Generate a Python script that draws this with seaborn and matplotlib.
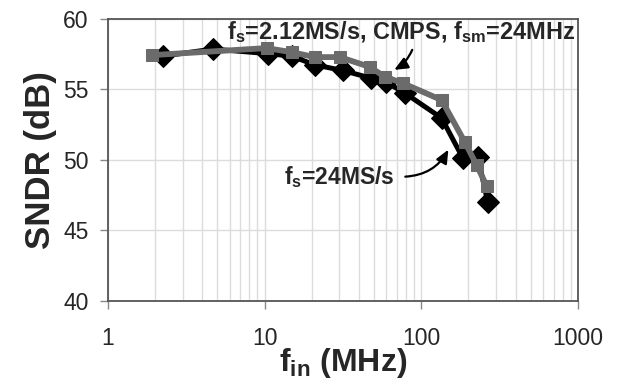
import numpy as np
import pandas as pd
import seaborn as sns
import matplotlib
matplotlib.use("Agg")
import matplotlib.pyplot as plt
from matplotlib.ticker import LogLocator, NullFormatter, FixedLocator

# Data
f_24 = [2.24, 4.68, 10.5, 14.9, 20.9, 31.6, 48.0, 60.0, 78.6, 135, 184, 230, 266]
sndr_24 = [57.37, 57.87, 57.55, 57.37, 56.75, 56.35, 55.8, 55.5, 54.75, 52.97, 50.15, 50.2, 47.0]
f_212 = [1.91, 10.3, 14.9, 20.9, 30.3, 47.0, 58.6, 76.3, 135, 190, 226, 262]
sndr_212 = [57.44, 57.94, 57.65, 57.3, 57.3, 56.6, 55.9, 55.45, 54.25, 51.26, 49.63, 48.14]

x_ticks = [1, 10, 100, 1000]
x_tick_labels = ["1", "10", "100", "1000"]
y_ticks = [40, 45, 50, 55, 60]

sns.set_style("white")
plt.rcParams['font.family'] = ['Liberation Sans', 'DejaVu Sans']
plt.rcParams['mathtext.fontset'] = 'custom'
plt.rcParams['mathtext.rm'] = 'Liberation Sans'
plt.rcParams['mathtext.bf'] = 'Liberation Sans:bold'

fig = plt.figure(figsize=(6.2, 3.82), dpi=100)
ax = fig.add_axes([0.174, 0.213, 0.758, 0.737])

df24 = pd.DataFrame({"f": f_24, "s": sndr_24})
df212 = pd.DataFrame({"f": f_212, "s": sndr_212})

sns.lineplot(data=df24, x="f", y="s", ax=ax, color="black", linewidth=3.6,
             marker="D", markersize=11, markeredgecolor="black", sort=False, zorder=3)
sns.lineplot(data=df212, x="f", y="s", ax=ax, color="#6b6b6b", linewidth=4.2,
             marker="s", markersize=9, markeredgecolor="#6b6b6b", sort=False, zorder=4)

ax.set_xscale("log")
ax.set_xlim(1, 1000)
ax.set_ylim(40, 60)
ax.xaxis.set_major_locator(FixedLocator(x_ticks))
ax.set_xticklabels(x_tick_labels)
ax.xaxis.set_minor_locator(LogLocator(base=10, subs=np.arange(2, 10)))
ax.xaxis.set_minor_formatter(NullFormatter())
ax.set_yticks(y_ticks)

ax.grid(True, which="major", axis="both", color="#dcdcdc", linewidth=1.0, zorder=0)
ax.grid(True, which="minor", axis="x", color="#dcdcdc", linewidth=1.0, zorder=0)
ax.set_axisbelow(True)

for sp in ax.spines.values():
    sp.set_visible(True)
    sp.set_color("#555555")
    sp.set_linewidth(1.3)

ax.tick_params(axis="both", which="major", labelsize=16.5, length=6, width=1,
               color="#888888", direction="out", bottom=True, left=True)
ax.tick_params(axis="x", which="major", pad=13)
ax.tick_params(axis="y", which="major", pad=8)
ax.tick_params(axis="x", which="minor", length=0)

ax.set_xlabel(r"f$_\mathregular{in}$ (MHz)", fontsize=23, fontweight="bold", labelpad=-3)
ax.set_ylabel("SNDR (dB)", fontsize=25, fontweight="bold", labelpad=4)

ax.text(5.75, 59.1, r"f$_\mathregular{s}$=2.12MS/s, CMPS, f$_\mathregular{sm}$=24MHz",
        fontsize=16.9, fontweight="bold", ha="left", va="center", zorder=6)
ax.annotate("", xy=(64.9, 56.3), xytext=(89, 58.0),
            arrowprops=dict(arrowstyle="-|>,head_length=0.8,head_width=0.35", color="black",
                            lw=1.6, connectionstyle="arc3,rad=-0.2"), zorder=6)

ax.text(13.3, 48.78, r"f$_\mathregular{s}$=24MS/s", fontsize=16.5, fontweight="bold",
        ha="left", va="center", zorder=6)
ax.annotate("", xy=(152, 50.9), xytext=(76, 48.8),
            arrowprops=dict(arrowstyle="-|>,head_length=0.8,head_width=0.35", color="black",
                            lw=1.6, connectionstyle="arc3,rad=0.3"), zorder=6)

fig.savefig("out.png", dpi=100)
